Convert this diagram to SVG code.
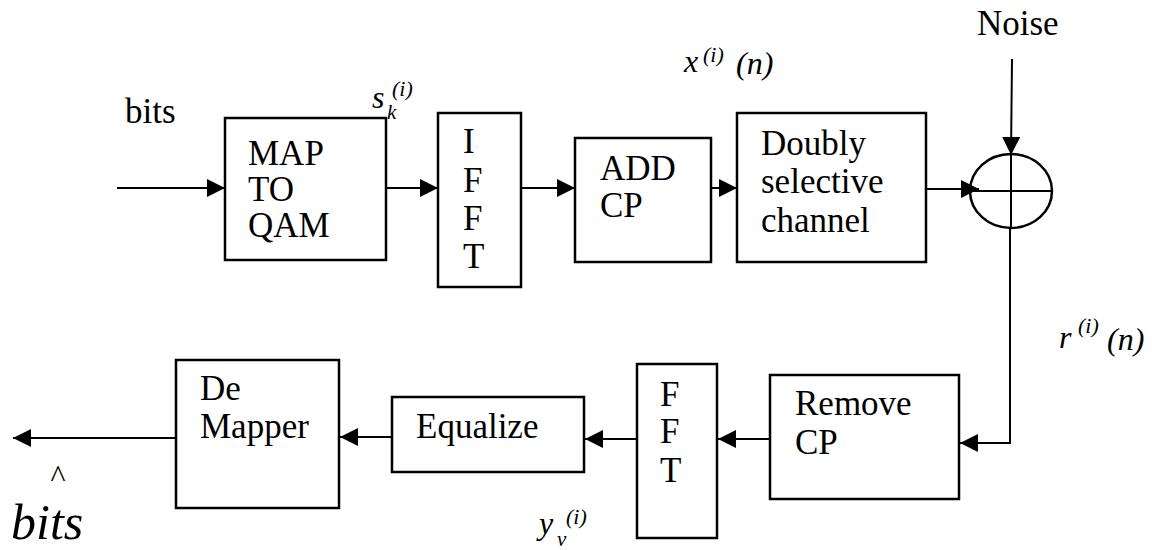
<svg xmlns="http://www.w3.org/2000/svg" width="1164" height="550" viewBox="0 0 1164 550">
<style>
.box{fill:#fff;stroke:#000;stroke-width:2.5}
.lbl{font-family:"Liberation Serif","Times New Roman",Tinos,"DejaVu Serif","Noto Serif",serif;font-size:35px;fill:#000}
.math{font-family:"Liberation Serif","Times New Roman",Tinos,"DejaVu Serif","Noto Serif",serif;font-style:italic;fill:#000}
.conn{fill:none;stroke:#000;stroke-width:2}
</style>
<defs>
<marker id="ah" markerUnits="userSpaceOnUse" markerWidth="18" markerHeight="18" viewBox="0 0 16 16" refX="16" refY="8" orient="auto">
<path d="M0,0 L16,8 L0,16 Z" fill="#000"/>
</marker>
</defs>
<rect width="1164" height="550" fill="#fff"/>

<g id="connectors">
<line class="conn" x1="117" y1="188" x2="225" y2="188" marker-end="url(#ah)"/>
<line class="conn" x1="386" y1="188" x2="438" y2="188" marker-end="url(#ah)"/>
<line class="conn" x1="521" y1="188" x2="575" y2="188" marker-end="url(#ah)"/>
<line class="conn" x1="711" y1="188" x2="737" y2="188" marker-end="url(#ah)"/>
<line class="conn" x1="926" y1="189" x2="979" y2="189" marker-end="url(#ah)"/>
<line class="conn" x1="1012" y1="59" x2="1011" y2="155" marker-end="url(#ah)"/>
<path class="conn" d="M1010,228 L1010,443 L960,443" marker-end="url(#ah)"/>
<line class="conn" x1="770" y1="439" x2="718" y2="439" marker-end="url(#ah)"/>
<line class="conn" x1="637" y1="439" x2="585" y2="439" marker-end="url(#ah)"/>
<line class="conn" x1="392" y1="437" x2="340" y2="437" marker-end="url(#ah)"/>
<line class="conn" x1="176" y1="438" x2="13" y2="438" marker-end="url(#ah)"/>
</g>

<g id="map">
<rect class="box" x="225" y="118" width="161" height="142"/>
<text class="lbl" x="248" y="165">MAP</text>
<text class="lbl" x="248" y="201">TO</text>
<text class="lbl" x="248" y="237">QAM</text>
</g>

<g id="ifft">
<rect class="box" x="438" y="113" width="83" height="174"/>
<text class="lbl" x="463" y="153">I</text>
<text class="lbl" x="463" y="192">F</text>
<text class="lbl" x="463" y="230">F</text>
<text class="lbl" x="463" y="268">T</text>
</g>

<g id="addcp">
<rect class="box" x="575" y="138" width="136" height="124"/>
<text class="lbl" x="600" y="180">ADD</text>
<text class="lbl" x="600" y="217">CP</text>
</g>

<g id="channel">
<rect class="box" x="737" y="113" width="189" height="149"/>
<text class="lbl" x="761" y="155">Doubly</text>
<text class="lbl" x="761" y="193">selective</text>
<text class="lbl" x="761" y="232">channel</text>
</g>

<g id="sum">
<ellipse cx="1011" cy="191" rx="41" ry="37" fill="none" stroke="#000" stroke-width="2.5"/>
<line x1="970" y1="191" x2="1052" y2="191" stroke="#000" stroke-width="2"/>
<line x1="1011" y1="154" x2="1011" y2="228" stroke="#000" stroke-width="2"/>
</g>

<g id="removecp">
<rect class="box" x="770" y="375" width="189" height="124"/>
<text class="lbl" x="795" y="415">Remove</text>
<text class="lbl" x="795" y="454">CP</text>
</g>

<g id="fft">
<rect class="box" x="637" y="364" width="80" height="174"/>
<text class="lbl" x="660" y="406">F</text>
<text class="lbl" x="660" y="443">F</text>
<text class="lbl" x="660" y="482">T</text>
</g>

<g id="equalize">
<rect class="box" x="392" y="397" width="192" height="75"/>
<text class="lbl" x="416" y="438">Equalize</text>
</g>

<g id="demapper">
<rect class="box" x="176" y="360" width="163" height="148"/>
<text class="lbl" x="200" y="400">De</text>
<text class="lbl" x="200" y="438">Mapper</text>
</g>

<g id="labels">
<text class="lbl" x="125" y="123">bits</text>
<text class="lbl" x="977" y="35">Noise</text>
<text class="math" x="372" y="108" font-size="32">s</text>
<text class="math" x="387" y="119" font-size="21">k</text>
<text class="math" x="392" y="96" font-size="22">(i)</text>
<text class="math" x="684" y="72" font-size="32">x</text>
<text class="math" x="703" y="62" font-size="22">(i)</text>
<text class="math" x="736" y="74" font-size="32">(n)</text>
<text class="math" x="1059" y="348" font-size="32">r</text>
<text class="math" x="1078" y="333" font-size="22">(i)</text>
<text class="math" x="1107" y="350" font-size="32">(n)</text>
<text class="math" x="539" y="534" font-size="32">y</text>
<text class="math" x="557" y="546" font-size="21">v</text>
<text class="math" x="566" y="524" font-size="22">(i)</text>
<text class="lbl" x="58" y="487" text-anchor="middle" style="font-size:32px">^</text>
<text class="math" x="11" y="539" font-size="50">bits</text>
</g>
</svg>
